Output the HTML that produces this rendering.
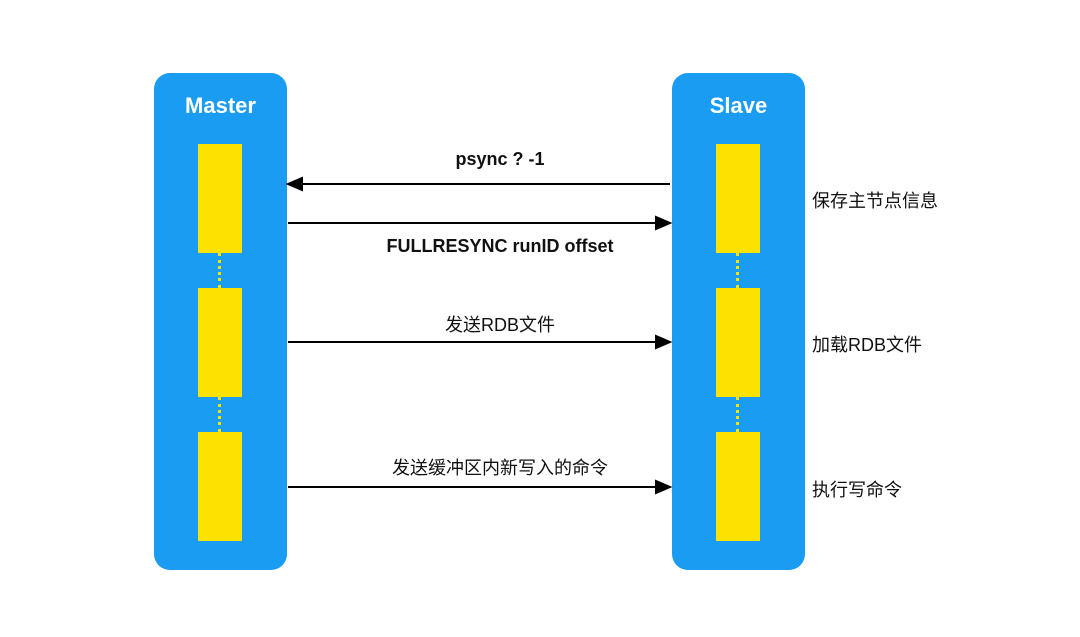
<!DOCTYPE html>
<html><head><meta charset="utf-8"><style>
body{margin:0;width:1080px;height:637px;background:#fff;position:relative;overflow:hidden;font-family:"Liberation Sans","Noto Sans CJK SC",sans-serif;}
.col{position:absolute;top:73px;width:133px;height:497px;background:#1a9cf2;border-radius:16px;}
.col .t{position:absolute;top:20px;width:100%;text-align:center;color:#fff;font-weight:bold;font-size:22px;}
.y{position:absolute;width:44px;height:109px;background:#fbe200;}
.dot{position:absolute;width:0;height:35px;border-left:3px dotted #fbe200;}
.lbl{position:absolute;font-size:18px;font-weight:bold;color:#111;text-align:center;}
.r{position:absolute;left:812px;font-size:18px;color:#111;}
</style></head><body>
<div class="col" style="left:154px"><div class="t">Master</div></div>
<div class="col" style="left:672px"><div class="t">Slave</div></div>
<div class="y" style="left:198px;top:144px"></div>
<div class="y" style="left:198px;top:288px"></div>
<div class="y" style="left:198px;top:432px"></div>
<div class="y" style="left:716px;top:144px"></div>
<div class="y" style="left:716px;top:288px"></div>
<div class="y" style="left:716px;top:432px"></div>
<div class="dot" style="left:218px;top:253px"></div>
<div class="dot" style="left:218px;top:397px"></div>
<div class="dot" style="left:736px;top:253px"></div>
<div class="dot" style="left:736px;top:397px"></div>
<svg width="1080" height="637" style="position:absolute;left:0;top:0">
<g stroke="#000" stroke-width="2" fill="#000">
<line x1="670" y1="184" x2="298" y2="184"/><polygon points="288,184 302,178 302,190"/>
<line x1="288" y1="223" x2="660" y2="223"/><polygon points="670,223 656,217 656,229"/>
<line x1="288" y1="342" x2="660" y2="342"/><polygon points="670,342 656,336 656,348"/>
<line x1="288" y1="487" x2="660" y2="487"/><polygon points="670,487 656,481 656,493"/>
</g></svg>
<div class="lbl" style="left:380px;width:240px;top:149px">psync ? -1</div>
<div class="lbl" style="left:330px;width:340px;top:236px">FULLRESYNC runID offset</div>
<div class="lbl" style="left:380px;width:240px;top:311px;font-weight:normal">发送RDB文件</div>
<div class="lbl" style="left:330px;width:340px;top:454px;font-weight:normal">发送缓冲区内新写入的命令</div>
<div class="r" style="top:187px">保存主节点信息</div>
<div class="r" style="top:331px">加载RDB文件</div>
<div class="r" style="top:476px">执行写命令</div>
</body></html>
